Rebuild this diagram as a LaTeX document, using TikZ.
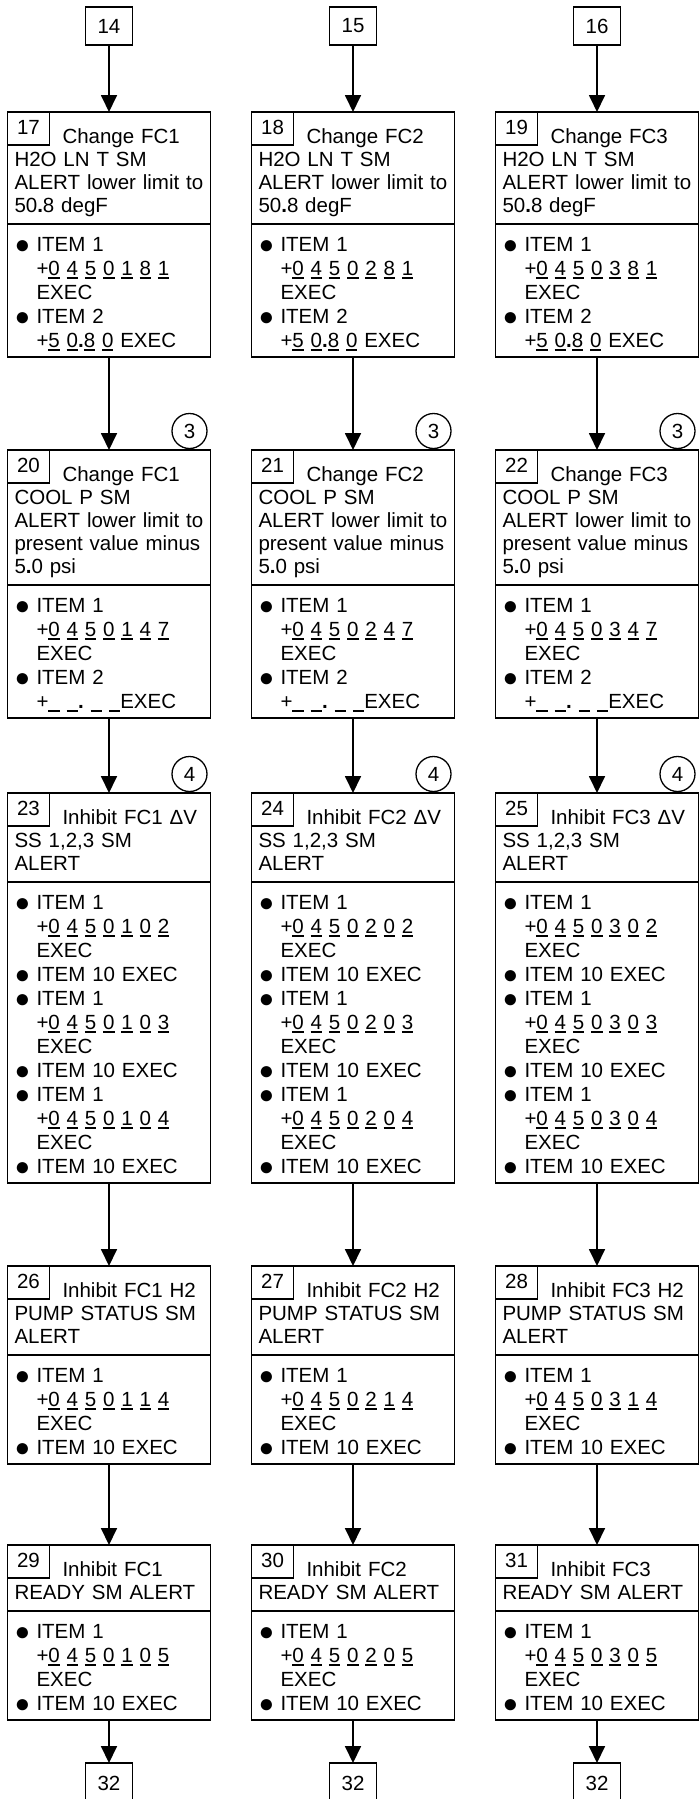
\documentclass[tikz,border=0pt]{standalone}
\usepackage{fontspec}
\setmainfont{Liberation Sans}
\usetikzlibrary{arrows.meta,positioning}

% struts for first baseline and last depth
\newcommand{\topH}{\rule{0pt}{31pt}}
\newcommand{\botH}{\rule[-12pt]{0pt}{12pt}}
\newcommand{\topB}{\rule{0pt}{27pt}}
\newcommand{\botB}{\rule[-10pt]{0pt}{10pt}}
\newcommand{\dig}[1]{\setbox0\hbox{#1}\rlap{\rule[-3.5pt]{\wd0}{1.3pt}}\box0\relax}
\newcommand{\blank}{\dig{\phantom{0}}}
\newcommand{\bdot}{{\bfseries .}}
\newcommand{\bul}{\makebox[22pt][l]{\raisebox{-2.5pt}{\fontsize{26}{26}\selectfont ●}}}
\newcommand{\ind}{\hspace*{22pt}}

\begin{document}
\begin{tikzpicture}[x=1pt,y=-1pt,>={Triangle[length=17pt,width=16pt]},
 line width=1.8pt,font=\fontsize{20.5}{23}\selectfont,
 hdr/.style={draw,outer sep=0pt,inner xsep=7pt,inner ysep=0pt,
 text width=189pt,align=left},
 items/.style={hdr,font=\fontsize{20.5}{24}\selectfont},
 numbox/.style={draw,outer sep=0pt,inner sep=0pt,minimum width=42pt,minimum height=33pt},
 term/.style={draw,outer sep=0pt,minimum width=47pt,minimum height=38pt},
 note/.style={draw,circle,line width=1.3pt,inner sep=0pt,minimum size=35pt}]
\useasboundingbox (0,0) rectangle (699,1799);
\clip (0,0) rectangle (699,1799);
\foreach \fc/\x in {1/109,2/353,3/597}{
\pgfmathtruncatemacro\ntop{13+\fc}
\pgfmathtruncatemacro\ntmp{16+\fc}
\pgfmathtruncatemacro\nprs{19+\fc}
\pgfmathtruncatemacro\ndv{22+\fc}
\pgfmathtruncatemacro\npmp{25+\fc}
\pgfmathtruncatemacro\nrdy{28+\fc}
\node[term,anchor=north] (top\fc) at (\x,7) {\ntop};
% change H2O LN T
\node[hdr,below=67pt of top\fc] (tmp\fc) {\topH\hspace*{48pt}Change FC\fc\\H2O LN T SM\\
 ALERT lower limit to\\50\bdot8 degF\botH};
\node[items,below=0pt of tmp\fc] (tmpi\fc) {\topB\bul ITEM 1\\
 \ind+\dig0 \dig4 \dig5 \dig0 \dig{\fc} \dig8 \dig1\\\ind EXEC\\
 \bul ITEM 2\\\ind+\dig5 \dig0\bdot\dig8 \dig0 EXEC\botB};
\node[numbox,anchor=north west] (tmpn\fc) at (tmp\fc.north west) {\raisebox{2pt}{\ntmp}};
% change COOL P
\node[hdr,below=93pt of tmpi\fc] (prs\fc) {\topH\hspace*{48pt}Change FC\fc\\COOL P SM\\
 ALERT lower limit to\\present value minus\\5\bdot0 psi\botH};
\node[items,below=0pt of prs\fc] (prsi\fc) {\topB\bul ITEM 1\\
 \ind+\dig0 \dig4 \dig5 \dig0 \dig{\fc} \dig4 \dig7\\\ind EXEC\\
 \bul ITEM 2\\\ind+\blank\ \blank\bdot\ \blank\ \blank EXEC\botB};
\node[numbox,anchor=north west] (prsn\fc) at (prs\fc.north west) {\raisebox{2pt}{\nprs}};
\node[note,xshift=-21pt,yshift=19pt] (cir3\fc) at (prs\fc.north east) {3};
% inhibit delta V
\node[hdr,below=75pt of prsi\fc] (dv\fc) {\topH\hspace*{48pt}Inhibit FC\fc\ ΔV\\
 SS 1,2,3 SM\\ALERT\botH};
\node[items,below=0pt of dv\fc] (dvi\fc) {\topB\bul ITEM 1\\
 \ind+\dig0 \dig4 \dig5 \dig0 \dig{\fc} \dig0 \dig2\\\ind EXEC\\\bul ITEM 10 EXEC\\
 \bul ITEM 1\\\ind+\dig0 \dig4 \dig5 \dig0 \dig{\fc} \dig0 \dig3\\\ind EXEC\\\bul ITEM 10 EXEC\\
 \bul ITEM 1\\\ind+\dig0 \dig4 \dig5 \dig0 \dig{\fc} \dig0 \dig4\\\ind EXEC\\\bul ITEM 10 EXEC\botB};
\node[numbox,anchor=north west] (dvn\fc) at (dv\fc.north west) {\raisebox{2pt}{\ndv}};
\node[note,xshift=-21pt,yshift=19pt] (cir4\fc) at (dv\fc.north east) {4};
% inhibit H2 pump
\node[hdr,below=83pt of dvi\fc] (pmp\fc) {\topH\hspace*{48pt}Inhibit FC\fc\ H2\\
 PUMP STATUS SM\\ALERT\botH};
\node[items,below=0pt of pmp\fc] (pmpi\fc) {\topB\bul ITEM 1\\
 \ind+\dig0 \dig4 \dig5 \dig0 \dig{\fc} \dig1 \dig4\\\ind EXEC\\\bul ITEM 10 EXEC\botB};
\node[numbox,anchor=north west] (pmpn\fc) at (pmp\fc.north west) {\raisebox{2pt}{\npmp}};
% inhibit ready
\node[hdr,below=81pt of pmpi\fc] (rdy\fc) {\topH\hspace*{48pt}Inhibit FC\fc\\
 READY SM ALERT\botH};
\node[items,below=0pt of rdy\fc] (rdyi\fc) {\topB\bul ITEM 1\\
 \ind+\dig0 \dig4 \dig5 \dig0 \dig{\fc} \dig0 \dig5\\\ind EXEC\\\bul ITEM 10 EXEC\botB};
\node[numbox,anchor=north west] (rdyn\fc) at (rdy\fc.north west) {\raisebox{2pt}{\nrdy}};
\node[term,minimum height=41pt,below=43pt of rdyi\fc] (end\fc) {32};
\draw[->] (top\fc) -- (tmp\fc);
\draw[->] (tmpi\fc) -- (prs\fc);
\draw[->] (prsi\fc) -- (dv\fc);
\draw[->] (dvi\fc) -- (pmp\fc);
\draw[->] (pmpi\fc) -- (rdy\fc);
\draw[->] (rdyi\fc) -- (end\fc);
}
\end{tikzpicture}
\end{document}
